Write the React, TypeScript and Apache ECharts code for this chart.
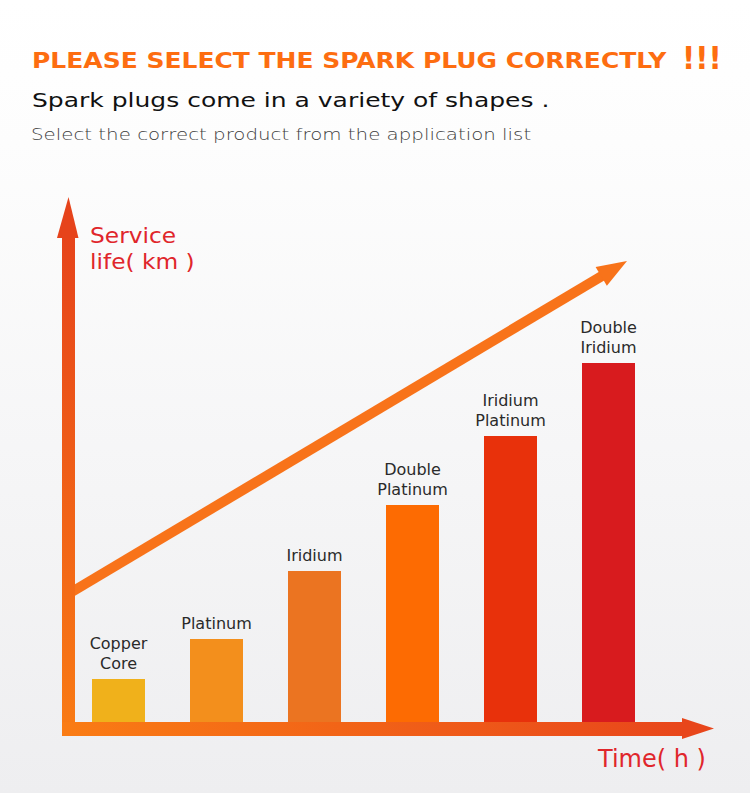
import React, { useEffect, useRef } from "react";
import * as echarts from "echarts";

const categories = [
  "Copper\nCore",
  "Platinum",
  "Iridium",
  "Double\nPlatinum",
  "Iridium\nPlatinum",
  "Double\nIridium",
];
const serviceLife = [43, 83, 151, 217, 286, 359];
const barColors = ["#f0b11b", "#f38f1c", "#eb7421", "#fd6b02", "#e8310b", "#d81b1e"];

const titleText = "PLEASE SELECT THE SPARK PLUG CORRECTLY";
const subtitleText = "Spark plugs come in a variety of shapes .";
const noteText = "Select the correct product from the application list";
const yAxisNameLines = ["Service", "life( km )"];
const xAxisName = "Time( h )";

const FONT = "DejaVu Sans";

export default function App() {
  const ref = useRef<HTMLDivElement>(null);
  useEffect(() => {
    if (!ref.current) return;
    const chart = echarts.init(ref.current, null, { renderer: "svg" });
    const vGrad = new echarts.graphic.LinearGradient(0, 1, 0, 0, [
      { offset: 0, color: "#f97b14" },
      { offset: 1, color: "#e6431b" },
    ]);
    const hGrad = new echarts.graphic.LinearGradient(0, 0, 1, 0, [
      { offset: 0, color: "#fa7c14" },
      { offset: 1, color: "#e8461b" },
    ]);
    // trend arrow geometry
    const sx = 70, sy = 593, tx = 627, ty = 261;
    const dx = tx - sx, dy = ty - sy;
    const len = Math.sqrt(dx * dx + dy * dy);
    const ux = dx / len, uy = dy / len;
    const bx = tx - 30 * ux, by = ty - 30 * uy;
    const nx = -uy, ny = ux;
    const hw = 11;

    chart.setOption({
      animation: false,
      backgroundColor: new echarts.graphic.LinearGradient(0, 0, 0, 1, [
        { offset: 0, color: "#ffffff" },
        { offset: 0.18, color: "#fdfdfd" },
        { offset: 1, color: "#eeeef0" },
      ]),
      grid: { left: 69.5, right: 92.5, top: 362, bottom: 71 },
      xAxis: {
        type: "category",
        data: categories,
        show: false,
      },
      yAxis: { type: "value", min: 0, max: 360, show: false },
      series: [
        {
          type: "bar",
          barWidth: 53,
          data: serviceLife.map((v, i) => ({ value: v, itemStyle: { color: barColors[i] } })),
          label: {
            show: true,
            position: "top",
            distance: 6,
            formatter: (p: any) => p.name,
            color: "#2a2a2a",
            fontFamily: FONT,
            fontSize: 16,
            lineHeight: 20,
            align: "center",
          },
        },
      ],
      graphic: [
        // axes
        { type: "rect", z: 10, shape: { x: 62, y: 230, width: 13, height: 506 }, style: { fill: vGrad } },
        { type: "polygon", z: 10, shape: { points: [[57, 238], [78.5, 238], [68.5, 197]] }, style: { fill: "#e6431b" } },
        { type: "rect", z: 10, shape: { x: 62, y: 722, width: 622, height: 14 }, style: { fill: hGrad } },
        { type: "polygon", z: 10, shape: { points: [[682, 718], [682, 739], [714, 728.5]] }, style: { fill: "#e8461b" } },
        // trend arrow
        { type: "line", z: 9, shape: { x1: sx, y1: sy, x2: bx + ux * 2, y2: by + uy * 2 }, style: { stroke: "#f8731a", lineWidth: 10 } },
        {
          type: "polygon",
          z: 9,
          shape: { points: [[tx, ty], [bx + nx * hw, by + ny * hw], [bx - nx * hw, by - ny * hw]] },
          style: { fill: "#f8731a" },
        },
        // texts
        {
          type: "text", x: 32, y: 60.5, scaleX: 1.19,
          style: { text: titleText, font: `bold 21px '${FONT}'`, fill: "#fd6d10", verticalAlign: "middle" },
        },
        {
          type: "text", x: 682, y: 58, scaleY: 1.1,
          style: { text: "!!!", font: `bold 29px '${FONT}'`, fill: "#fd6d10", verticalAlign: "middle" },
        },
        {
          type: "text", x: 32, y: 100, scaleX: 1.25,
          style: { text: subtitleText, font: `20px '${FONT}'`, fill: "#111111", verticalAlign: "middle" },
        },
        {
          type: "text", x: 31, y: 134, scaleX: 1.2,
          style: { text: noteText, font: `300 16.5px '${FONT}'`, fill: "#3c3c3c", verticalAlign: "middle" },
        },
        {
          type: "text", x: 90, y: 235, scaleX: 1.06,
          style: { text: yAxisNameLines[0], font: `22px '${FONT}'`, fill: "#e0262b", verticalAlign: "middle" },
        },
        {
          type: "text", x: 90, y: 261, scaleX: 1.06,
          style: { text: yAxisNameLines[1], font: `22px '${FONT}'`, fill: "#e0262b", verticalAlign: "middle" },
        },
        {
          type: "text", x: 598, y: 758.5,
          style: { text: xAxisName, font: `24px '${FONT}'`, fill: "#e0262b", verticalAlign: "middle" },
        },
      ],
    });
    return () => chart.dispose();
  }, []);
  return (
    <div
      ref={ref}
      style={{ position: "absolute", left: 0, top: 0, width: 750, height: 793 }}
    />
  );
}
